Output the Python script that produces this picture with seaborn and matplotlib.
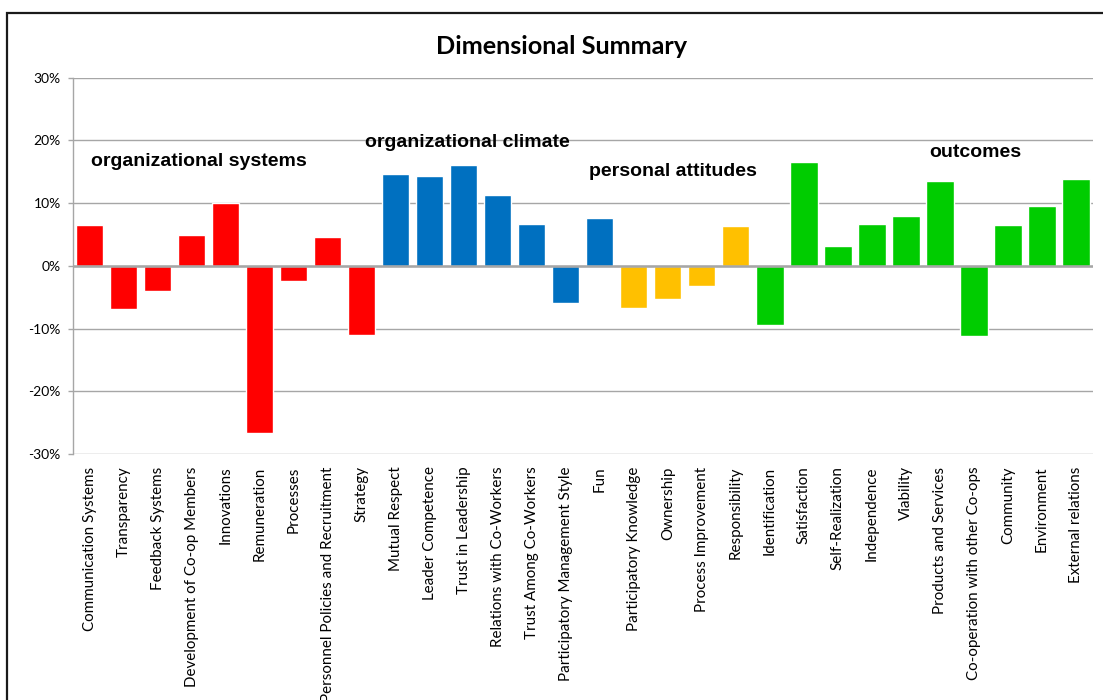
import matplotlib
matplotlib.use("Agg")
import matplotlib.pyplot as plt
import seaborn as sns
import pandas as pd
from matplotlib.ticker import FuncFormatter, MultipleLocator
from matplotlib.patches import Rectangle

categories = [
    "Communication Systems", "Transparency", "Feedback Systems",
    "Development of Co-op Members", "Innovations", "Remuneration",
    "Processes", "Personnel Policies and Recruitment", "Strategy",
    "Mutual Respect", "Leader Competence", "Trust in Leadership",
    "Relations with Co-Workers", "Trust Among Co-Workers",
    "Participatory Management Style", "Fun",
    "Participatory Knowledge", "Ownership", "Process Improvement",
    "Responsibility",
    "Identification", "Satisfaction", "Self-Realization", "Independence",
    "Viability", "Products and Services", "Co-operation with other Co-ops",
    "Community", "Environment", "External relations",
]
values = [
    6.5, -6.9, -4.0, 4.9, 10.0, -26.6, -2.4, 4.6, -11.1,
    14.7, 14.3, 16.1, 11.3, 6.6, -5.9, 7.6,
    -6.7, -5.3, -3.2, 6.3,
    -9.4, 16.5, 3.1, 6.6, 7.9, 13.5, -11.2, 6.5, 9.5, 13.8,
]
groups = (["organizational systems"] * 9 + ["organizational climate"] * 7
          + ["personal attitudes"] * 4 + ["outcomes"] * 10)
group_names = ["organizational systems", "organizational climate",
               "personal attitudes", "outcomes"]
group_colors = ["#FF0000", "#0070C0", "#FFC000", "#00CC00"]
label_pos = [(3.21, 16.7), (11.09, 19.7), (17.14, 15.1), (26.05, 18.1)]
title = "Dimensional Summary"

df = pd.DataFrame({"category": categories, "value": values, "group": groups})

sns.set_theme(style="white")
plt.rcParams["font.family"] = ["Lato", "DejaVu Sans"]

fig = plt.figure(figsize=(11.03, 7.0), dpi=100)
ax = fig.add_axes([72.7 / 1103, 1 - 454 / 700, (1093 - 72.7) / 1103, (454 - 77.7) / 700])

sns.barplot(data=df, x="category", y="value", hue="group", hue_order=group_names,
            palette=dict(zip(group_names, group_colors)), dodge=False,
            width=0.8, saturation=1, legend=False, ax=ax, zorder=3)

ax.set_ylim(-30, 30)
ax.set_xlim(-0.5, len(categories) - 0.5)
ax.yaxis.set_major_locator(MultipleLocator(10))
ax.yaxis.set_major_formatter(FuncFormatter(lambda v, p: f"{int(round(v))}%"))
ax.grid(axis="y", color="#a6a6a6", linewidth=1.0, zorder=0)
ax.set_axisbelow(True)
ax.axhline(0, color="#a6a6a6", linewidth=1.8, zorder=4)
for s in ["top", "right", "bottom"]:
    ax.spines[s].set_visible(False)
ax.spines["left"].set_color("#a6a6a6")
ax.spines["left"].set_linewidth(1.0)
ax.tick_params(axis="y", which="major", left=True, length=3.6, width=1.0,
               color="#a6a6a6", labelsize=10, pad=5, labelcolor="black")
ax.tick_params(axis="x", length=0, pad=9, labelsize=10.9, labelcolor="black")
ax.set_xticks(range(len(categories)))
ax.set_xticklabels(categories, rotation=90, ha="center", va="top")
ax.set_xlabel("")
ax.set_ylabel("")

for name, (x, y) in zip(group_names, label_pos):
    ax.text(x, y, name, ha="center", va="center", fontsize=14, fontweight="bold",
            family=["Liberation Sans", "DejaVu Sans"], color="black", zorder=5)

fig.text(562 / 1103, 1 - 46 / 700, title, ha="center", va="center",
         fontsize=18.2, fontweight="bold", color="black")

frame = Rectangle((7 / 1103, -0.1), 2.0, (1 - 13 / 700) + 0.1, transform=fig.transFigure,
                  fill=False, edgecolor="#1a1a1a", linewidth=1.6, clip_on=False)
fig.patches.append(frame)

fig.savefig("out.png", dpi=100)
